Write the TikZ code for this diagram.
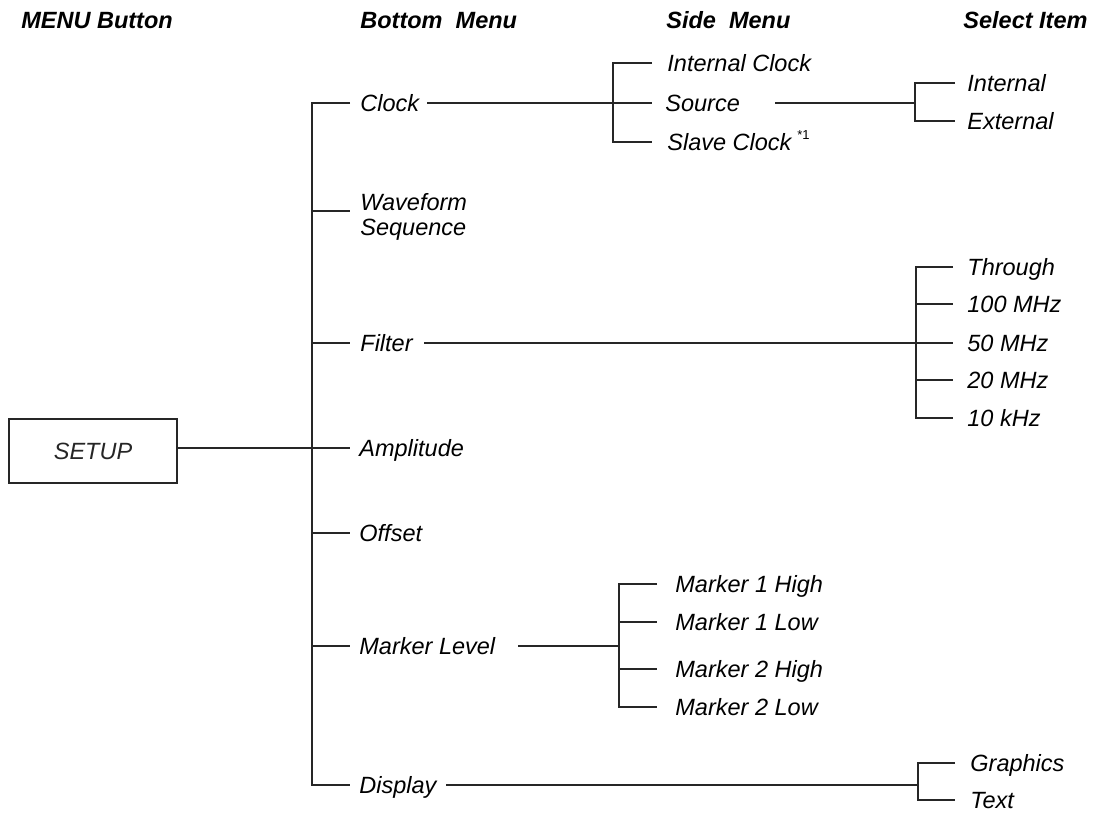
\documentclass[tikz,border=0pt]{standalone}
\usepackage{fontspec}
\setmainfont{Liberation Sans}
\begin{document}
\begin{tikzpicture}[x=0.5pt,y=-0.5pt,
  lab/.style={anchor=base west,inner sep=0pt,font=\fontsize{11.75}{14}\selectfont\itshape},
  head/.style={anchor=base west,inner sep=0pt,font=\fontsize{11.75}{14}\selectfont\bfseries\itshape},
  ln/.style={line width=0.7pt,color=black!85}]
\useasboundingbox (0,0) rectangle (1096,814);
% headers
\node[head] (h1) at (21,28) {MENU Button};
\node[head] (h2) at (360,28) {Bottom~~Menu};
\node[head] (h3) at (666,28) {Side~~Menu};
\node[head] (h4) at (963,28) {Select Item};
% SETUP box
\node[ln,draw,minimum width=84pt,minimum height=32pt,inner sep=0pt,font=\fontsize{11.75}{14}\selectfont\itshape] (setup) at (93,451) {SETUP};
% bottom menu labels
\node[lab] (clock) at (360,111) {Clock};
\node[lab] (wave) at (360,210) {Waveform};
\node[lab] (seq) at (360,235) {Sequence};
\node[lab] (filter) at (360,351) {Filter};
\node[lab] (amp) at (359,456) {Amplitude};
\node[lab] (offset) at (359,541) {Offset};
\node[lab] (marker) at (359,654) {Marker Level};
\node[lab] (display) at (359,793) {Display};
% main tree coordinates
\coordinate (mtop) at (312,103);
\coordinate (mbot) at (312,785);
\coordinate (tClock) at (350,103);
\coordinate (tWave) at (350,211);
\coordinate (mWave) at (312,211);
\coordinate (tFilter) at (350,343);
\coordinate (mFilter) at (312,343);
\coordinate (tAmp) at (350,448);
\coordinate (mAmp) at (312,448);
\coordinate (tOff) at (350,533);
\coordinate (mOff) at (312,533);
\coordinate (tMark) at (350,646);
\coordinate (mMark) at (312,646);
\coordinate (tDisp) at (350,785);
\draw[ln] (tClock) -- (mtop) -- (mbot) -- (tDisp);
\draw[ln] (mWave) -- (tWave);
\draw[ln] (mFilter) -- (tFilter);
\draw[ln] (mOff) -- (tOff);
\draw[ln] (mMark) -- (tMark);
\draw[ln] (setup.east |- mAmp) -- (tAmp);
% Clock side menu
\node[lab] (intclk) at (667,71) {Internal Clock};
\node[lab] (source) at (665,111) {Source};
\node[lab] (slave) at (667,150) {Slave Clock};
\node[anchor=base west,inner sep=0pt,font=\fontsize{6.5}{8}\selectfont] (note) at (797,139) {*1};
\coordinate (cStart) at (427,103);
\coordinate (cEnd) at (652,103);
\coordinate (sTop) at (613,63);
\coordinate (sBot) at (613,142);
\coordinate (sTopT) at (652,63);
\coordinate (sBotT) at (652,142);
\draw[ln] (cStart) -- (cEnd);
\draw[ln] (sTopT) -- (sTop) -- (sBot) -- (sBotT);
% Source select items
\node[lab] (internal) at (967,91) {Internal};
\node[lab] (external) at (967,129) {External};
\coordinate (srcStart) at (775,103);
\coordinate (srcJ) at (915,103);
\coordinate (siTop) at (915,83);
\coordinate (siBot) at (915,121);
\coordinate (siTopT) at (955,83);
\coordinate (siBotT) at (955,121);
\draw[ln] (srcStart) -- (srcJ);
\draw[ln] (siTopT) -- (siTop) -- (siBot) -- (siBotT);
% Filter select items
\node[lab] (through) at (967,275) {Through};
\node[lab] (f100) at (967,312) {100 MHz};
\node[lab] (f50) at (967,351) {50 MHz};
\node[lab] (f20) at (967,388) {20 MHz};
\node[lab] (f10) at (967,426) {10 kHz};
\coordinate (fStart) at (424,343);
\coordinate (fEnd) at (953,343);
\coordinate (fTop) at (916,267);
\coordinate (fBot) at (916,418);
\coordinate (fTopT) at (953,267);
\coordinate (fBotT) at (953,418);
\coordinate (f100a) at (916,304);
\coordinate (f100b) at (953,304);
\coordinate (f20a) at (916,380);
\coordinate (f20b) at (953,380);
\draw[ln] (fStart) -- (fEnd);
\draw[ln] (fTopT) -- (fTop) -- (fBot) -- (fBotT);
\draw[ln] (f100a) -- (f100b);
\draw[ln] (f20a) -- (f20b);
% Marker level side menu
\node[lab] (m1h) at (675,592) {Marker 1 High};
\node[lab] (m1l) at (675,630) {Marker 1 Low};
\node[lab] (m2h) at (675,677) {Marker 2 High};
\node[lab] (m2l) at (675,715) {Marker 2 Low};
\coordinate (mkStart) at (518,646);
\coordinate (mkJ) at (619,646);
\coordinate (mkTop) at (619,584);
\coordinate (mkBot) at (619,707);
\coordinate (mkTopT) at (657,584);
\coordinate (mkBotT) at (657,707);
\coordinate (mk1la) at (619,622);
\coordinate (mk1lb) at (657,622);
\coordinate (mk2ha) at (619,669);
\coordinate (mk2hb) at (657,669);
\draw[ln] (mkStart) -- (mkJ);
\draw[ln] (mkTopT) -- (mkTop) -- (mkBot) -- (mkBotT);
\draw[ln] (mk1la) -- (mk1lb);
\draw[ln] (mk2ha) -- (mk2hb);
% Display select items
\node[lab] (graphics) at (970,771) {Graphics};
\node[lab] (text) at (970,808) {Text};
\coordinate (dStart) at (446,785);
\coordinate (dJ) at (918,785);
\coordinate (dTop) at (918,763);
\coordinate (dBot) at (918,800);
\coordinate (dTopT) at (955,763);
\coordinate (dBotT) at (955,800);
\draw[ln] (dStart) -- (dJ);
\draw[ln] (dTopT) -- (dTop) -- (dBot) -- (dBotT);
\end{tikzpicture}
\end{document}
